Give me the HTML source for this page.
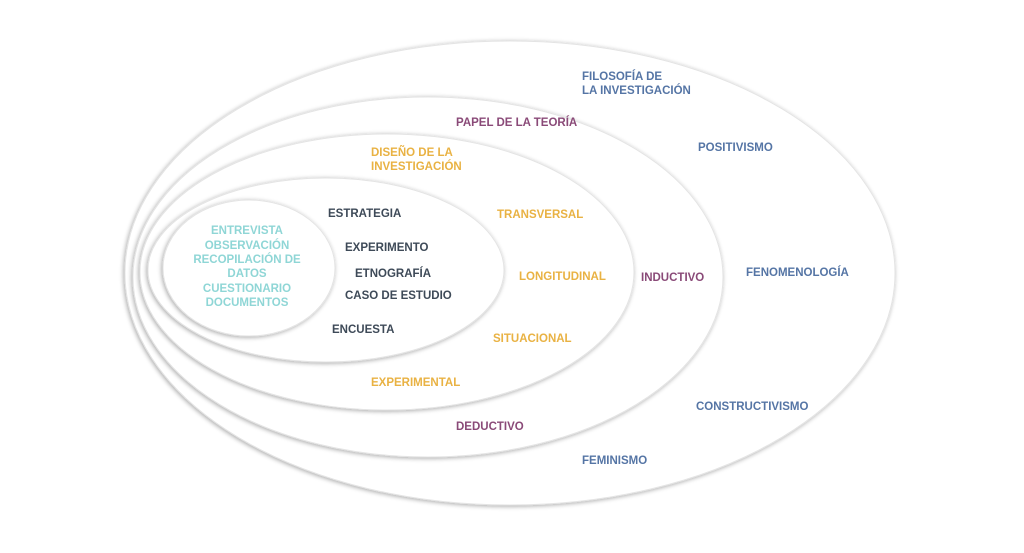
<!DOCTYPE html>
<html><head><meta charset="utf-8"><style>
html,body{margin:0;padding:0;background:#fff;}
svg{display:block}
text{font-family:"Liberation Sans",sans-serif;font-weight:bold;font-size:11.5px;}
.b{fill:#5575a5}.p{fill:#8a4a78}.o{fill:#e9b243}.d{fill:#3e4a58}.t{fill:#8fd6d6}
</style></head><body>
<svg width="1024" height="553" viewBox="0 0 1024 553">
<defs><filter id="s" x="-10%" y="-10%" width="120%" height="120%"><feGaussianBlur in="SourceAlpha" stdDeviation="2.5"/><feOffset dx="-1" dy="1"/><feComponentTransfer><feFuncA type="linear" slope="0.35"/></feComponentTransfer><feMerge><feMergeNode/><feMergeNode in="SourceGraphic"/></feMerge></filter></defs>
<g fill="#fff" stroke="#e4e4e4" stroke-width="1">
<ellipse cx="510" cy="273" rx="385" ry="232" filter="url(#s)"/>
<ellipse cx="428" cy="277" rx="295" ry="180" filter="url(#s)"/>
<ellipse cx="387" cy="272" rx="247" ry="138" filter="url(#s)"/>
<ellipse cx="326" cy="270" rx="178" ry="92" filter="url(#s)"/>
<ellipse cx="249" cy="268" rx="86" ry="68" filter="url(#s)"/>
</g>
<text class="b" x="582" y="80">FILOSOFÍA DE</text>
<text class="b" x="582" y="94">LA INVESTIGACIÓN</text>
<text class="p" x="456" y="126">PAPEL DE LA TEORÍA</text>
<text class="b" x="698" y="151">POSITIVISMO</text>
<text class="o" x="371" y="156">DISEÑO DE LA</text>
<text class="o" x="371" y="170">INVESTIGACIÓN</text>
<text class="d" x="328" y="217">ESTRATEGIA</text>
<text class="o" x="497" y="218">TRANSVERSAL</text>
<g class="t" text-anchor="middle">
<text x="247" y="234">ENTREVISTA</text>
<text x="247" y="249">OBSERVACIÓN</text>
<text x="247" y="263">RECOPILACIÓN DE</text>
<text x="247" y="277">DATOS</text>
<text x="247" y="292">CUESTIONARIO</text>
<text x="247" y="306">DOCUMENTOS</text>
</g>
<text class="d" x="345" y="251">EXPERIMENTO</text>
<text class="d" x="355" y="277">ETNOGRAFÍA</text>
<text class="d" x="345" y="299">CASO DE ESTUDIO</text>
<text class="o" x="519" y="280">LONGITUDINAL</text>
<text class="p" x="641" y="281">INDUCTIVO</text>
<text class="b" x="746" y="276">FENOMENOLOGÍA</text>
<text class="d" x="332" y="333">ENCUESTA</text>
<text class="o" x="493" y="342">SITUACIONAL</text>
<text class="o" x="371" y="386">EXPERIMENTAL</text>
<text class="b" x="696" y="410">CONSTRUCTIVISMO</text>
<text class="p" x="456" y="430">DEDUCTIVO</text>
<text class="b" x="582" y="464">FEMINISMO</text>
</svg>
</body></html>
